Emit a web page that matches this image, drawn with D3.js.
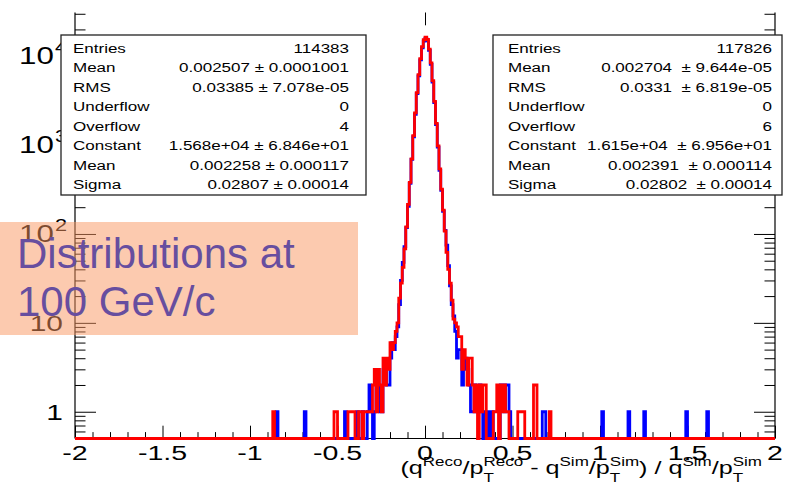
<!DOCTYPE html>
<html>
<head>
<meta charset="utf-8">
<script src="https://cdn.jsdelivr.net/npm/d3@7"></script>
<style>
  html, body { margin: 0; padding: 0; background: #ffffff; }
  svg { display: block; }
  text { font-family: "Liberation Sans", Arial, Helvetica, sans-serif; white-space: pre; }
</style>
</head>
<body>
<svg id="chart" width="788" height="484"></svg>
<script>
// ---- histogram binning ----
const binWidth = 0.01;
const xRange = [-2, 2];
const yRange = [0.5, 31000];

// central bins (low edges) shared by both histograms
const coreEdges = [-0.16, -0.15, -0.14, -0.13, -0.12, -0.11, -0.10, -0.09, -0.08, -0.07, -0.06, -0.05,
  -0.04, -0.03, -0.02, -0.01, 0.00, 0.01, 0.02, 0.03, 0.04, 0.05, 0.06, 0.07, 0.08, 0.09, 0.10, 0.11,
  0.12, 0.13, 0.14, 0.15, 0.16, 0.17, 0.18, 0.19];
const blueCore = [9, 16, 30, 48, 72, 118, 205, 370, 690, 1240, 2220, 3800, 6000, 9100, 12400, 14800,
  15800, 14900, 11600, 8100, 5100, 3000, 1700, 950, 520, 310, 180, 110, 75, 44, 26, 16, 12, 8, 4, 5];
const redCore = [10, 19, 28, 42, 68, 120, 215, 380, 700, 1280, 2300, 3900, 6200, 9400, 12800, 15300,
  16400, 15400, 12000, 8400, 5300, 3100, 1750, 980, 540, 320, 185, 108, 62, 40, 28, 18, 11, 10, 9, 7];

// sparse tail bins (low edge, entries)
const blueTailEdges = [-0.85, -0.69, -0.46, -0.39, -0.36, -0.33, -0.32, -0.31, -0.29, -0.28, -0.27, -0.26,
  -0.25, -0.24, -0.23, -0.22, -0.21, -0.20, -0.19, -0.18, -0.17,
  0.20, 0.21, 0.22, 0.23, 0.24, 0.25, 0.26, 0.27, 0.28, 0.29, 0.30, 0.31, 0.32, 0.34, 0.36, 0.38,
  0.43, 0.44, 0.45, 0.46, 0.47, 0.48, 0.67, 0.68, 1.01, 1.16, 1.25, 1.49, 1.61];
const blueTailCounts = [1, 1, 1, 1, 1, 1, 2, 1, 1, 2, 2, 1,
  1, 3, 3, 2, 2, 4, 6, 5, 7,
  5, 2, 3, 4, 3, 2, 1, 1, 2, 1, 1, 2, 1, 1, 1, 1,
  2, 2, 1, 2, 2, 1, 1, 1, 1, 1, 1, 1, 1];
const redTailEdges = [-0.87, -0.52, -0.51, -0.44, -0.43, -0.42, -0.41, -0.38, -0.37, -0.35, -0.34, -0.33,
  -0.32, -0.31, -0.30, -0.29, -0.28, -0.27, -0.26, -0.25, -0.24, -0.23, -0.22, -0.21, -0.20, -0.19,
  -0.18, -0.17,
  0.20, 0.21, 0.22, 0.23, 0.24, 0.25, 0.26, 0.27, 0.28, 0.29, 0.31, 0.32, 0.33, 0.34, 0.39, 0.40,
  0.41, 0.43, 0.44, 0.45, 0.46, 0.47, 0.53, 0.54, 0.55, 0.56, 0.62, 0.63, 0.71];
const redTailCounts = [1, 1, 1, 1, 1, 1, 1, 1, 1, 1, 1, 1,
  1, 1, 2, 3, 1, 3, 2, 1, 4, 2, 4, 3, 6, 5,
  6, 8,
  7, 3, 5, 4, 2, 4, 4, 2, 1, 2, 2, 1, 2, 2, 1, 1,
  2, 2, 1, 2, 1, 1, 1, 1, 1, 1, 2, 2, 1];

// ---- axis labels ----
const xTickValues = [-2, -1.5, -1, -0.5, 0, 0.5, 1, 1.5, 2];
const xTickLabels = ["-2", "-1.5", "-1", "-0.5", "0", "0.5", "1", "1.5", "2"];
const yTickValues = [1, 10, 100, 1000, 10000];
const yTickBases = ["1", "10", "10", "10", "10"];
const yTickExponents = ["", "", "2", "3", "4"];
const axisTitle = [["(q"], ["^", "Reco"], ["/p"], ["_^", "T", "Reco"], [" - q"], ["^", "Sim"], ["/p"],
  ["_^", "T", "Sim"], [") / q"], ["^", "Sim"], ["/p"], ["_^", "T", "Sim"]];

// ---- statistics boxes ----
const statLabels = ["Entries", "Mean", "RMS", "Underflow", "Overflow", "Constant", "Mean", "Sigma"];
const blueStats = ["114383", "0.002507 \u00b1 0.0001001", "0.03385 \u00b1 7.078e-05", "0", "4",
  "1.568e+04 \u00b1 6.846e+01", "0.002258 \u00b1 0.000117", "0.02807 \u00b1 0.00014"];
const redStats = ["117826", "0.002704  \u00b1 9.644e-05", "0.0331  \u00b1 6.819e-05", "0", "6",
  "1.615e+04  \u00b1 6.956e+01", "0.002391  \u00b1 0.000114", "0.02802  \u00b1 0.00014"];

const noteLines = ["Distributions at", "100 GeV/c"];

// ---- layout ----
const frame = { left: 75, right: 775, top: 12.5, bottom: 438.5 };
const sx = 1.36;              // ROOT text is drawn horizontally stretched
const svg = d3.select("#chart");

const x = d3.scaleLinear().domain(xRange).range([frame.left, frame.right]);
const y = d3.scaleLog().domain(yRange).range([frame.bottom, frame.top]);

// ---- frame ----
const frameG = svg.append("g").attr("stroke", "#000").attr("stroke-width", 1.2);
frameG.append("line").attr("x1", frame.left).attr("x2", frame.left).attr("y1", frame.top).attr("y2", frame.bottom);
frameG.append("line").attr("x1", frame.right).attr("x2", frame.right).attr("y1", frame.top).attr("y2", frame.bottom);
frameG.append("line").attr("x1", frame.left).attr("x2", frame.right).attr("y1", frame.bottom).attr("y2", frame.bottom);

// ---- ticks ----
const xMinor = d3.range(-20, 21).filter(k => k % 5 !== 0).map(k => k / 10);
const yMinor = [];
[0.1, 1, 10, 100, 1000, 10000].forEach(d => {
  for (let m = 2; m <= 9; m++) {
    const v = m * d;
    if (v >= yRange[0] && v <= yRange[1]) yMinor.push(v);
  }
});

function ticks(axis, translate) {
  svg.append("g").attr("transform", translate).call(axis)
    .call(g => g.select(".domain").remove())
    .call(g => g.selectAll(".tick line").attr("stroke", "#000").attr("stroke-width", 1));
}
const xMajorLen = 12.8, xMinorLen = 6.4, yMajorLen = 21, yMinorLen = 10.5;
ticks(d3.axisBottom(x).tickValues(xTickValues).tickSize(-xMajorLen).tickFormat(""), `translate(0,${frame.bottom})`);
ticks(d3.axisBottom(x).tickValues(xMinor).tickSize(-xMinorLen).tickFormat(""), `translate(0,${frame.bottom})`);
ticks(d3.axisTop(x).tickValues([0]).tickSize(-xMajorLen).tickFormat(""), `translate(0,${frame.top})`);
ticks(d3.axisLeft(y).tickValues(yTickValues).tickSize(-yMajorLen).tickFormat(""), `translate(${frame.left},0)`);
ticks(d3.axisLeft(y).tickValues(yMinor).tickSize(-yMinorLen).tickFormat(""), `translate(${frame.left},0)`);
ticks(d3.axisRight(y).tickValues(yTickValues).tickSize(-yMajorLen).tickFormat(""), `translate(${frame.right},0)`);
ticks(d3.axisRight(y).tickValues(yMinor).tickSize(-yMinorLen).tickFormat(""), `translate(${frame.right},0)`);

// ---- tick labels ----
function stretchedText(parent, str, px, py, size, anchor) {
  return parent.append("text")
    .attr("transform", `translate(${px},${py}) scale(${sx},1)`)
    .attr("text-anchor", anchor)
    .attr("font-size", size)
    .attr("fill", "#000")
    .attr("xml:space", "preserve")
    .text(str);
}
const labelG = svg.append("g");
xTickValues.forEach((v, i) => stretchedText(labelG, xTickLabels[i], x(v), 460, 21, "middle"));

yTickValues.forEach((v, i) => {
  const yy = y(v);
  if (yTickExponents[i]) {
    const rightEdge = 67;
    const sup = stretchedText(labelG, yTickExponents[i], rightEdge, yy - 3, 16, "end");
    const w = sup.node().getComputedTextLength() * sx;
    stretchedText(labelG, yTickBases[i], rightEdge - w - 1, yy + 8, 23, "end");
  } else {
    stretchedText(labelG, yTickBases[i], 63, yy + 8, 22, "end");
  }
});

// ---- axis title with super/subscripts ----
(function drawTitle() {
  const mainSize = 18.5, smallSize = 12.5, supDy = -8, subDy = 7.5;
  const g = svg.append("g");
  let cx = 0;
  const put = (str, size, dy) => {
    const t = g.append("text").attr("x", cx).attr("y", dy).attr("font-size", size)
      .attr("fill", "#000").attr("xml:space", "preserve").text(str);
    return t.node().getComputedTextLength();
  };
  axisTitle.forEach(part => {
    if (part.length === 1) {
      cx += put(part[0], mainSize, 0);
    } else if (part[0] === "^") {
      cx += put(part[1], smallSize, supDy);
    } else {
      const w1 = put(part[1], smallSize, subDy);
      const w2 = put(part[2], smallSize, supDy);
      cx += Math.max(w1, w2);
    }
  });
  g.attr("transform", `translate(${762 - cx * sx},474) scale(${sx},1)`);
})();

// ---- histograms ----
function denseCounts(edgesA, countsA, edgesB, countsB) {
  const n = Math.round((xRange[1] - xRange[0]) / binWidth);
  const c = new Array(n).fill(0);
  const fill = (edges, counts) => edges.forEach((e, i) => {
    c[Math.round((e - xRange[0]) / binWidth)] = counts[i];
  });
  fill(edgesA, countsA);
  fill(edgesB, countsB);
  const pts = c.map((v, i) => [xRange[0] + i * binWidth, v]);
  pts.push([xRange[1], c[n - 1]]);
  return pts;
}
const histLine = d3.line()
  .x(d => x(d[0]))
  .y(d => y(Math.max(d[1], yRange[0])))
  .curve(d3.curveStepAfter);

const blueHist = denseCounts(coreEdges, blueCore, blueTailEdges, blueTailCounts);
const redHist = denseCounts(coreEdges, redCore, redTailEdges, redTailCounts);

svg.append("path").datum(blueHist).attr("d", histLine)
  .attr("fill", "none").attr("stroke", "#0000ff").attr("stroke-width", 2.8).attr("stroke-linejoin", "miter");
svg.append("path").datum(redHist).attr("d", histLine)
  .attr("fill", "none").attr("stroke", "#ff0000").attr("stroke-width", 2.8).attr("stroke-linejoin", "miter");

// ---- statistics boxes ----
function statBox(x0, y0, w, h, labelX, valueX, values) {
  const g = svg.append("g");
  g.append("rect").attr("x", x0).attr("y", y0).attr("width", w).attr("height", h)
    .attr("fill", "#fff").attr("stroke", "#222").attr("stroke-width", 1.3);
  statLabels.forEach((lab, i) => {
    const by = 52.8 + 19.5 * i;
    stretchedText(g, lab, labelX, by, 12.5, "start");
    stretchedText(g, values[i], valueX, by, 12.5, "end");
  });
}
statBox(61, 35, 305, 160, 73, 349, blueStats);
statBox(493, 35, 289, 160, 508, 772, redStats);

// ---- annotation ----
svg.append("rect").attr("x", 0).attr("y", 222).attr("width", 358).attr("height", 113)
  .attr("fill", "rgb(250,150,95)").attr("fill-opacity", 0.5);
noteLines.forEach((s, i) => {
  svg.append("text").attr("x", 17).attr("y", 268 + 48 * i)
    .attr("font-size", 42).attr("fill", "#674e9f").text(s);
});
</script>
</body>
</html>
